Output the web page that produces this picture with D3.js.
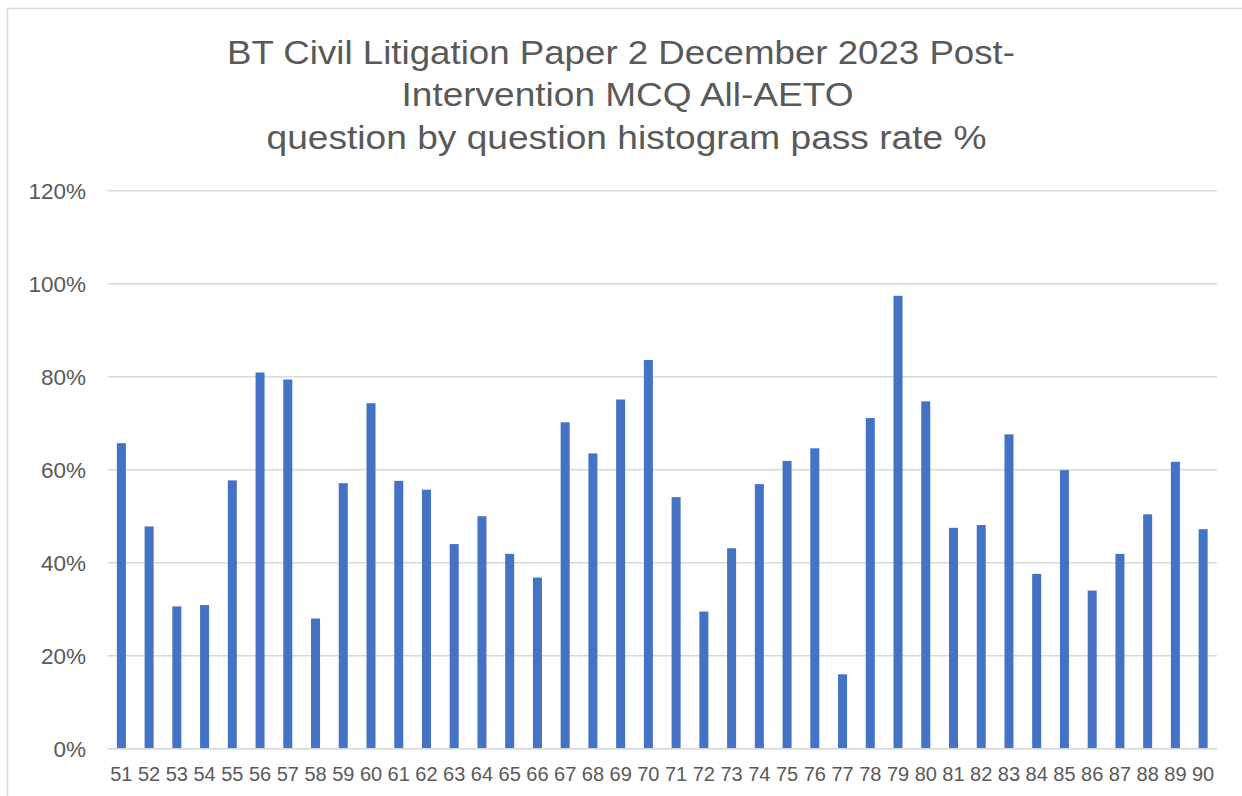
<!DOCTYPE html>
<html>
<head>
<meta charset="utf-8">
<script src="https://cdn.jsdelivr.net/npm/d3@7"></script>
<style>
  html, body { margin: 0; padding: 0; background: #ffffff; }
  svg { display: block; }
  text { font-family: "Liberation Sans", Arial, sans-serif; fill: #595959; }
</style>
</head>
<body>
<svg id="chart" width="1242" height="796"></svg>
<script>
// Question numbers (categories)
const questions = [51,52,53,54,55,56,57,58,59,60,61,62,63,64,65,66,67,68,69,70,
                   71,72,73,74,75,76,77,78,79,80,81,82,83,84,85,86,87,88,89,90];
// Pass rate per question, in percent
const passRates = [65.7,47.8,30.6,30.9,57.7,80.9,79.4,28.0,57.1,74.3,
                   57.6,55.7,44.0,50.0,41.9,36.8,70.2,63.5,75.1,83.6,
                   54.1,29.5,43.1,56.9,61.9,64.6,16.0,71.1,97.4,74.7,
                   47.5,48.1,67.6,37.6,59.9,34.0,41.9,50.4,61.7,47.2];
// Value axis ticks (fractions)
const yTicks = [0, 0.2, 0.4, 0.6, 0.8, 1.0, 1.2];
// Title lines
const titleLines = [
  "BT Civil Litigation Paper 2 December 2023 Post-",
  "Intervention MCQ All-AETO",
  "question by question histogram pass rate %"
];

const data = questions.map((q, i) => ({ q: String(q), v: passRates[i] / 100 }));

const svg = d3.select("#chart");
const W = 1242, H = 796;
const plot = { left: 107.5, right: 1217, top: 190.7, bottom: 748.7 };

// Chart area frame (top and left edges visible)
svg.append("rect")
  .attr("x", 7.5).attr("y", 8.5)
  .attr("width", W + 20).attr("height", H + 20)
  .attr("fill", "none")
  .attr("stroke", "#d9d9d9")
  .attr("stroke-width", 1.5);

const x = d3.scaleBand()
  .domain(data.map(d => d.q))
  .range([plot.left, plot.right])
  .paddingInner(0.675)
  .paddingOuter(0.3375);

const y = d3.scaleLinear()
  .domain([0, 1.2])
  .range([plot.bottom, plot.top]);

// Horizontal gridlines
svg.append("g")
  .selectAll("line")
  .data(yTicks)
  .join("line")
  .attr("x1", plot.left).attr("x2", plot.right)
  .attr("y1", d => y(d)).attr("y2", d => y(d))
  .attr("stroke", "#d9d9d9")
  .attr("stroke-width", 1.4);

// Bars
svg.append("g")
  .selectAll("rect")
  .data(data)
  .join("rect")
  .attr("x", d => x(d.q))
  .attr("y", d => y(d.v))
  .attr("width", x.bandwidth())
  .attr("height", d => y(0) - y(d.v))
  .attr("fill", "#4472C4");

// Category axis line
svg.append("line")
  .attr("x1", plot.left).attr("x2", plot.right)
  .attr("y1", y(0)).attr("y2", y(0))
  .attr("stroke", "#d9d9d9")
  .attr("stroke-width", 1.5);

// Value axis labels
const pct = d3.format(".0%");
svg.append("g")
  .selectAll("text")
  .data(yTicks)
  .join("text")
  .attr("x", 86)
  .attr("y", d => y(d))
  .attr("dy", "0.35em")
  .attr("text-anchor", "end")
  .attr("font-size", 22.5)
  .text(d => pct(d));

// Category labels
svg.append("g")
  .selectAll("text")
  .data(data)
  .join("text")
  .attr("x", d => x(d.q) + x.bandwidth() / 2)
  .attr("y", 781)
  .attr("text-anchor", "middle")
  .attr("font-size", 20)
  .text(d => d.q);

// Title
const titleLayout = [
  { x: 227, y: 64, w: 788 },
  { x: 401.5, y: 106, w: 452 },
  { x: 266.5, y: 149, w: 720 }
];
svg.append("g")
  .selectAll("text")
  .data(titleLines)
  .join("text")
  .attr("x", (d, i) => titleLayout[i].x)
  .attr("y", (d, i) => titleLayout[i].y)
  .attr("font-size", 33.5)
  .attr("textLength", (d, i) => titleLayout[i].w)
  .attr("lengthAdjust", "spacingAndGlyphs")
  .text(d => d);
</script>
</body>
</html>
